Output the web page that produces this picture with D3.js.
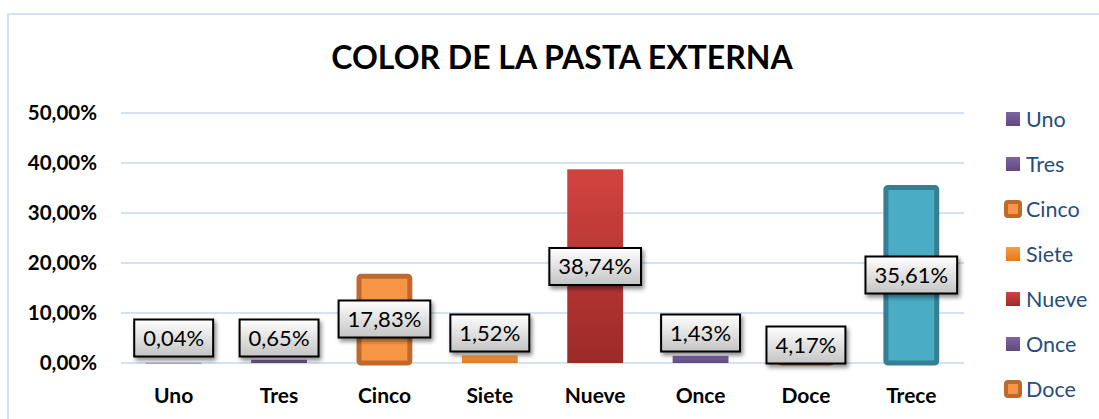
<!DOCTYPE html>
<html>
<head>
<meta charset="utf-8">
<script src="https://cdn.jsdelivr.net/npm/d3@7"></script>
<style>
  body { margin: 0; background: #fff; }
  svg { display: block; font-family: Lato, "Open Sans", sans-serif; }
</style>
</head>
<body>
<svg id="chart" width="1099" height="419"></svg>
<script>
// data
const categories = ["Uno", "Tres", "Cinco", "Siete", "Nueve", "Once", "Doce", "Trece"];
const labelValues = [0.04, 0.65, 17.83, 1.52, 38.74, 1.43, 4.17, 35.61];
// bar heights as drawn (Doce shows flat in the original)
const barValues = [0.04, 0.65, 17.83, 1.52, 38.74, 1.43, 0.05, 35.61];
// where Excel parked each data label (in % units)
const labelPos = [5.0, 5.0, 8.8, 6.0, 19.3, 6.0, 3.6, 17.6];
const yTicks = [0, 10, 20, 30, 40, 50];
const legendItems = ["Uno", "Tres", "Cinco", "Siete", "Nueve", "Once", "Doce"];

const fmt = v => d3.format(".2f")(v).replace(".", ",") + "%";

const styles = {
  Uno:   { fill: "#8d7bb4", stroke: null },
  Tres:  { fill: "url(#gPurple)", stroke: null },
  Cinco: { fill: "#f79646", stroke: "#bf6a2c" },
  Siete: { fill: "url(#gOrange)", stroke: null },
  Nueve: { fill: "url(#gRed)", stroke: null },
  Once:  { fill: "url(#gPurple)", stroke: null },
  Doce:  { fill: "#f79646", stroke: "#b8692c" },
  Trece: { fill: "#4bacc6", stroke: "#347f94" }
};

const svg = d3.select("#chart");
const defs = svg.append("defs");

function vgrad(id, c0, c1) {
  const g = defs.append("linearGradient").attr("id", id)
    .attr("x1", 0).attr("y1", 0).attr("x2", 0).attr("y2", 1);
  g.append("stop").attr("offset", "0%").attr("stop-color", c0);
  g.append("stop").attr("offset", "100%").attr("stop-color", c1);
}
vgrad("gRed", "#d2433f", "#9c2a28");
vgrad("gPurple", "#8064a2", "#5f4a7e");
vgrad("gOrange", "#f99a44", "#e07a20");
vgrad("gLabel", "#ffffff", "#c4c4c4");

const shadow = defs.append("filter").attr("id", "shadow")
  .attr("x", "-20%").attr("y", "-30%").attr("width", "150%").attr("height", "180%");
shadow.append("feDropShadow").attr("dx", 2).attr("dy", 3)
  .attr("stdDeviation", 2).attr("flood-color", "#000").attr("flood-opacity", 0.45);

// outer chart border
svg.append("rect")
  .attr("x", 8).attr("y", 14).attr("width", 1200).attr("height", 500)
  .attr("fill", "none").attr("stroke", "#d5e1f1").attr("stroke-width", 2);

const plot = { left: 121, right: 964, top: 113, bottom: 363 };

const x = d3.scaleBand().domain(categories)
  .range([plot.left, plot.right])
  .paddingInner(0.47).paddingOuter(0.235);
const y = d3.scaleLinear().domain([0, 50]).range([plot.bottom, plot.top]);

// title
svg.append("text")
  .attr("x", 562).attr("y", 69)
  .attr("text-anchor", "middle")
  .attr("font-size", 32).attr("font-weight", "bold").attr("fill", "#000")
  .text("COLOR DE LA PASTA EXTERNA");

// gridlines
svg.append("g").selectAll("line").data(yTicks).join("line")
  .attr("x1", plot.left).attr("x2", plot.right)
  .attr("y1", d => y(d)).attr("y2", d => y(d))
  .attr("stroke", "#d6e2f2").attr("stroke-width", 2);

// y axis labels
const yAxis = d3.axisLeft(y).tickValues(yTicks).tickSize(0).tickPadding(0)
  .tickFormat(d => fmt(d));
svg.append("g")
  .attr("transform", `translate(${plot.left - 24},0)`)
  .call(yAxis)
  .call(g => g.select(".domain").remove())
  .call(g => g.selectAll("text")
    .attr("font-family", "Lato, sans-serif")
    .attr("font-size", 20.5).attr("font-weight", "bold").attr("fill", "#000"));

// x axis labels
const xAxis = d3.axisBottom(x).tickSize(0).tickPadding(0);
svg.append("g")
  .attr("transform", `translate(0,${plot.bottom + 25})`)
  .call(xAxis)
  .call(g => g.select(".domain").remove())
  .call(g => g.selectAll("text")
    .attr("font-family", "Lato, sans-serif")
    .attr("font-size", 21).attr("font-weight", "bold").attr("fill", "#000"));

// bars
const bars = categories.map((c, i) => ({ cat: c, v: barValues[i], lv: labelValues[i], lp: labelPos[i] }));
const sw = 5;
svg.append("g").selectAll("rect").data(bars).join("rect")
  .each(function (d) {
    const st = styles[d.cat];
    const inset = st.stroke ? sw / 2 : 0;
    d3.select(this)
      .attr("x", x(d.cat) + inset)
      .attr("y", st.stroke ? Math.min(y(d.v) + inset, y(0)) : y(d.v))
      .attr("width", x.bandwidth() - 2 * inset)
      .attr("height", st.stroke ? Math.max(0.01, y(0) - y(d.v) - inset) : Math.max(0.8, y(0) - y(d.v)))
      .attr("rx", st.stroke ? 2 : 0)
      .attr("fill", st.fill)
      .attr("stroke", st.stroke || "none")
      .attr("stroke-width", st.stroke ? sw : 0);
  });

// data labels
const lab = svg.append("g").selectAll("g").data(bars).join("g")
  .attr("transform", d => `translate(${x(d.cat) + x.bandwidth() / 2},${y(d.lp)})`);
lab.append("rect").attr("class", "box");
lab.append("text")
  .attr("text-anchor", "middle").attr("dy", "0.36em")
  .attr("font-family", "Lato, sans-serif")
  .attr("font-size", 22).attr("fill", "#000")
  .text(d => fmt(d.lv));
lab.each(function () {
  const g = d3.select(this);
  const w = g.select("text").node().getComputedTextLength() + 18;
  g.select(".box")
    .attr("x", -w / 2).attr("y", -18.5).attr("width", w).attr("height", 37)
    .attr("fill", "url(#gLabel)").attr("stroke", "#000").attr("stroke-width", 2)
    .attr("filter", "url(#shadow)");
});

// legend
const legendFill = {
  Uno: "url(#gPurple)", Tres: "url(#gPurple)", Once: "url(#gPurple)",
  Siete: "url(#gOrange)", Nueve: "url(#gRed)"
};
const lg = svg.append("g").selectAll("g").data(legendItems).join("g")
  .attr("transform", (d, i) => `translate(1006,${119 + i * 45})`);
lg.each(function (d) {
  const g = d3.select(this);
  if (styles[d].stroke) {
    g.append("rect").attr("x", 0).attr("y", -7).attr("width", 14).attr("height", 14)
      .attr("rx", 2).attr("fill", "#f79646").attr("stroke", "#bf6a2c").attr("stroke-width", 4);
  } else {
    g.append("rect").attr("x", 0).attr("y", -7).attr("width", 14).attr("height", 14)
      .attr("fill", legendFill[d]);
  }
});
lg.append("text")
  .attr("x", 20).attr("dy", "0.36em")
  .attr("font-family", "Lato, sans-serif")
  .attr("font-size", 21.5).attr("fill", "#264d7c")
  .text(d => d);
</script>
</body>
</html>
